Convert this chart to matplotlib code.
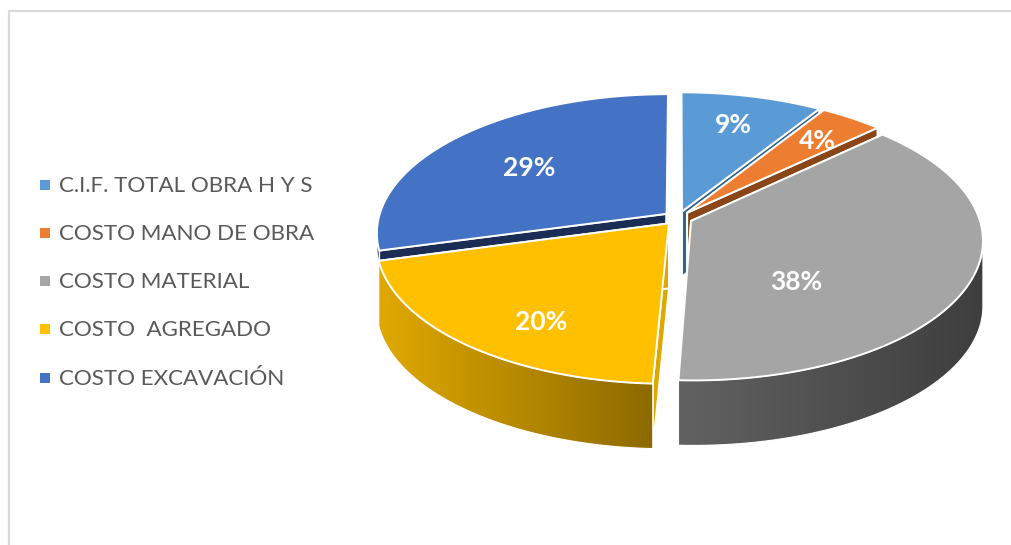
import numpy as np
import matplotlib
matplotlib.use('Agg')
import matplotlib.pyplot as plt
from matplotlib.colors import LinearSegmentedColormap
from matplotlib.patches import Polygon

labels = ['C.I.F. TOTAL OBRA H Y S', 'COSTO MANO DE OBRA', 'COSTO MATERIAL', 'COSTO  AGREGADO', 'COSTO EXCAVACIÓN']
values = [9.0, 4.0, 37.7, 20.1, 29.2]
top_colors = ['#5B9BD5', '#ED7D31', '#A5A5A5', '#FFC000', '#4472C4']
# wall colour at the left and right end of each slice's outer wall
wall_left = ['#2F6590', '#8A4518', '#626262', '#E0A900', '#1B2D55']
wall_right = ['#2F6590', '#8A4518', '#3E3E3E', '#8C6A00', '#1B2D55']
radial_colors = ['#2F6590', '#8A4518', '#3E3E3E', '#DDA800', '#1B2D55']
# where the % labels sit in the picture
label_pos = [(733, 125), (817, 141), (796, 282), (541, 322), (529, 168)]

cx, cy = 678, 218
R, H, k = 288, 137, 0.136
explode = 0.05
# the blue slice only shows a thin strip, the yellow top hides the rest
depths = [65, 65, 65, 65, 14]
edge = 1.4


def project(ang, r, mid):
    x = r * np.sin(ang) + explode * np.sin(mid)
    y = r * np.cos(ang) + explode * np.cos(mid)
    w = 1 / (1 + k * y)
    return cx + R * x * w, cy - H * y * w


fig = plt.figure(figsize=(10.11, 5.45), dpi=100)
ax = fig.add_axes([0, 0, 1, 1])
ax.axis('off')

# chart frame
ax.plot([8.5, 8.5, 1011], [545, 10.5, 10.5], color='#D9D9D9', lw=1.6, zorder=0)

fractions = np.array(values) / sum(values)
ends = np.cumsum(fractions) * 2 * np.pi
starts = ends - fractions * 2 * np.pi

# outer wall only shows between the two side extremes of the ellipse
side = np.arccos(-k)

# painter's order, back to front
order = [0, 1, 4, 3, 2]
for z, i in enumerate(order):
    mid = (starts[i] + ends[i]) / 2
    ang = np.linspace(starts[i], ends[i], 200)
    ex, ey = project(ang, 1, mid)
    ax0, ay0 = project(mid, 0, mid)
    base = 10 + z * 10
    depth = depths[i]

    # radial walls
    for a in (starts[i], ends[i]):
        px, py = project(a, 1, mid)
        ax.fill([ax0, px, px, ax0], [ay0, py, py + depth, ay0 + depth],
                facecolor=radial_colors[i], edgecolor='white', lw=edge, zorder=base)

    # outer wall, shaded along x
    front = (ang >= side) & (ang <= 2 * np.pi - side)
    if front.sum() > 1:
        fx, fy = ex[front], ey[front]
        wall = np.column_stack([np.r_[fx, fx[::-1]], np.r_[fy, fy[::-1] + depth]])
        cmap = LinearSegmentedColormap.from_list('wall', [wall_left[i], wall_right[i]])
        img = ax.imshow(np.linspace(0, 1, 256)[None, :], cmap=cmap, aspect='auto',
                        extent=[fx.min(), fx.max(), (fy + depth).max(), fy.min()], zorder=base + 1)
        img.set_clip_path(Polygon(wall, transform=ax.transData))
        ax.add_patch(Polygon(wall, closed=True, fill=False, edgecolor='white', lw=0.8, zorder=base + 2))

    # top face
    ax.fill(np.r_[ax0, ex], np.r_[ay0, ey], facecolor=top_colors[i],
            edgecolor='white', lw=edge, joinstyle='round', zorder=base + 5)

# percentage labels
for v, (lx, ly) in zip(values, label_pos):
    ax.text(lx, ly, f'{v:.0f}%', color='white', fontsize=19, fontweight='bold',
            family='Lato', ha='center', va='center', zorder=100)

# legend
legend_y = [186, 234, 282, 330, 379]
for lab, col, ly in zip(labels, top_colors, legend_y):
    ax.scatter([44.5], [ly - 1], marker='s', s=52, color=col, linewidths=0, zorder=100)
    ax.text(59, ly, lab, color='#595959', fontsize=16.1, family='Lato',
            ha='left', va='center', zorder=100)

ax.set_xlim(0, 1011)
ax.set_ylim(545, 0)

fig.savefig('out.png', dpi=100)
